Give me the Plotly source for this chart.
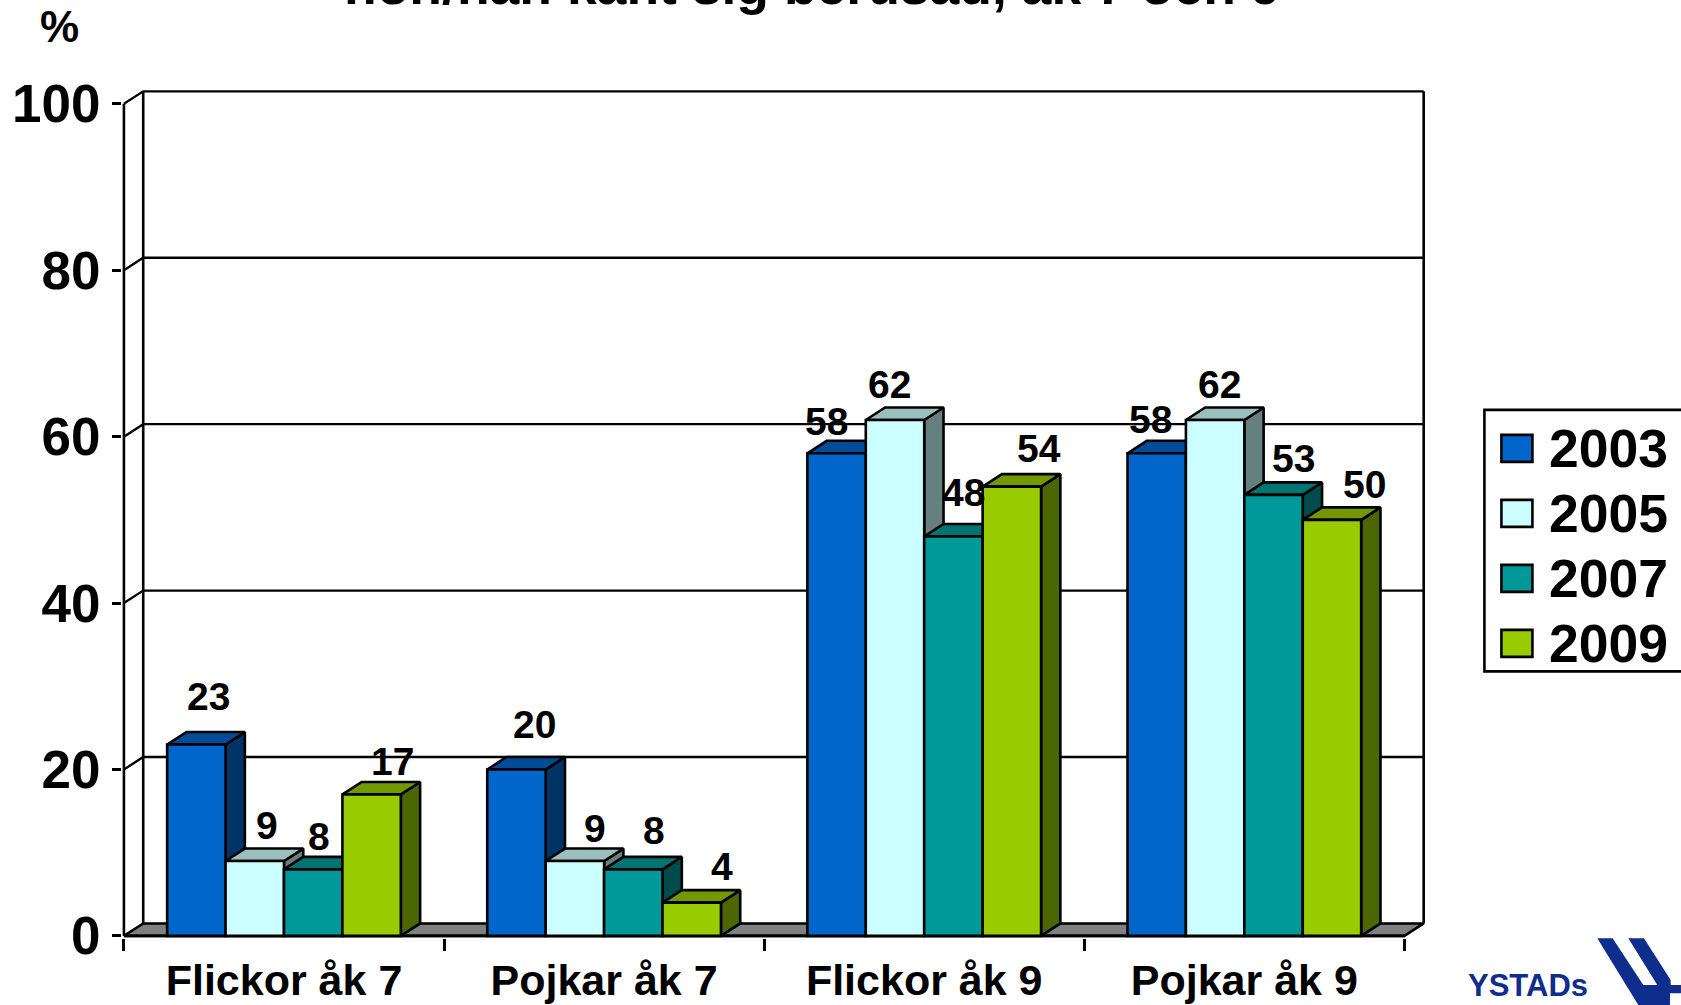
import plotly.graph_objects as go

# ---- data ----
categories = ["Flickor åk 7", "Pojkar åk 7", "Flickor åk 9", "Pojkar åk 9"]
years = ["2003", "2005", "2007", "2009"]
v2003 = [23, 20, 58, 58]
v2005 = [9, 9, 62, 62]
v2007 = [8, 8, 48, 53]
v2009 = [17, 4, 54, 50]
y_ticks = [0, 20, 40, 60, 80, 100]
title_text = "hon/han känt sig berusad, åk 7 och 9"

series = [v2003, v2005, v2007, v2009]
colors = ["#0066CC", "#CCFFFF", "#009999", "#99CC00"]
# label displacement from the bar's top centre, in pixels (x, y up)
label_dx = [[12, 18, -10, -6], [12, 20, -6, 4], [6, 21, 10, 20], [21, 30, 27, 33]]
label_dy = [[48, 45, 32, 34], [36, 33, 36, 36], [33, 39, 44, 36], [33, 36, 38, 35]]

W, H = 1681, 1005
FX0, FX1, FY100, FY0 = 124.4, 1404.5, 104.0, 936.0   # front plane of the chart, in pixels
CAT_PX = (FX1 - FX0) / 4
VAL_PX = (FY0 - FY100) / 100
FONT = "Liberation Sans"
LW = 2.6
GROUP_GAP = 0.27
DX, DY = 0.0603, 1.5   # 3-D depth in axis units
BAR_W = (1 - GROUP_GAP) / 4
XMIN, XMAX = -0.5, 3.5
XR = [-0.506, 3.58]
YR = [-0.25, 101.9]
L = FX0 + (XR[0] - XMIN) * CAT_PX
R = FX1 + (XR[1] - XMAX) * CAT_PX
B = FY0 - YR[0] * VAL_PX
T = FY100 - (YR[1] - 100) * VAL_PX


def shade(hex_color, k):
    c = [int(hex_color[i:i + 2], 16) for i in (1, 3, 5)]
    return "#" + "".join(f"{round(v * k):02X}" for v in c)


def px(x):
    return (x - L) / (R - L)


def py(y):
    return (B - y) / (B - T)


fig = go.Figure()


def poly(xs, ys, fill, name):
    fig.add_trace(go.Scatter(x=xs, y=ys, mode="lines", fill="toself", fillcolor=fill,
                             line=dict(color="black", width=LW), showlegend=False,
                             hoverinfo="skip", name=name))


def seg(xs, ys, width=LW):
    fig.add_trace(go.Scatter(x=xs, y=ys, mode="lines", line=dict(color="black", width=width),
                             showlegend=False, hoverinfo="skip"))


# floor
poly([XMIN, XMIN + DX, XMAX + DX, XMAX, XMIN], [0, DY, DY, 0, 0], "#808080", "floor")
# wall grid lines
for t in y_ticks[1:]:
    seg([XMIN, XMIN + DX, XMAX + DX], [t, t + DY, t + DY], LW * 0.9)
# wall verticals and front axis lines
for xv in (XMIN + DX, XMAX + DX):
    seg([xv, xv], [DY, y_ticks[-1] + DY])
seg([XMIN, XMIN], [0, y_ticks[-1]])
seg([XMIN, XMAX], [0, 0])

# 3-D faces of the bars, series by series
for i, (vals, col) in enumerate(zip(series, colors)):
    for c, v in enumerate(vals):
        left = c - 2 * BAR_W + i * BAR_W
        right = left + BAR_W
        poly([right, right + DX, right + DX, right, right],
             [0, DY, v + DY, v, 0], shade(col, 0.5), f"{years[i]} side")
        poly([left, left + DX, right + DX, right, left],
             [v, v + DY, v + DY, v, v], shade(col, 0.75), f"{years[i]} top")

# front faces of the bars on an overlay subplot
for i, (vals, col) in enumerate(zip(series, colors)):
    fig.add_trace(go.Bar(x=list(range(4)), y=vals, name=years[i], xaxis="x2", yaxis="y2",
                         marker=dict(color=col, line=dict(color="black", width=LW)),
                         cliponaxis=False, showlegend=False))

ann = []
for i, vals in enumerate(series):
    for c, v in enumerate(vals):
        center = c - 2 * BAR_W + (i + 0.5) * BAR_W
        ann.append(dict(x=center, y=v, xref="x", yref="y", text=f"<b>{v}</b>", showarrow=False,
                        xanchor="center", yanchor="middle",
                        xshift=label_dx[i][c], yshift=label_dy[i][c],
                        font=dict(size=39, color="black", family=FONT)))

ann.append(dict(x=px(60), y=py(27), xref="paper", yref="paper", text="<b>%</b>", showarrow=False,
                xanchor="center", yanchor="middle", font=dict(size=44, color="black", family=FONT)))
ann.append(dict(x=px(813), y=py(17), xref="paper", yref="paper", text=f"<b>{title_text}</b>",
                showarrow=False, xanchor="center", yanchor="bottom",
                font=dict(size=53.5, color="black", family=FONT)))

shapes = [dict(type="rect", xref="paper", yref="paper", x0=px(1484.5), x1=px(1720), y0=py(410), y1=py(671.5),
               line=dict(color="black", width=LW), fillcolor="white", layer="above")]
row_top = [435, 500, 565, 630]
for yr, col, ty in zip(years, colors, row_top):
    shapes.append(dict(type="rect", xref="paper", yref="paper", x0=px(1501.5), x1=px(1532.5),
                       y0=py(ty), y1=py(ty + 27), fillcolor=col,
                       line=dict(color="black", width=LW), layer="above"))
    ann.append(dict(x=px(1547), y=py(ty + 14), xref="paper", yref="paper", text=f"<b>{yr}</b>",
                    showarrow=False, xanchor="left", yanchor="middle",
                    font=dict(size=53.5, color="black", family=FONT)))

# Ystad logo
LOGO = "#0F2D8C"
lx = lambda v: px(1580 + v / 3)
ly = lambda v: py(925 + v / 3)
pts = [(52, 40), (98, 40), (190, 180), (232, 180), (145, 40), (192, 40), (272, 165), (272, 180),
       (303, 180), (303, 205), (270, 205), (270, 240), (175, 240)]
path = "M" + " L".join(f"{lx(a):.5f},{ly(b):.5f}" for a, b in pts) + " Z"
shapes.append(dict(type="path", xref="paper", yref="paper", path=path, fillcolor=LOGO,
                   line=dict(width=0), layer="above"))
ann.append(dict(x=px(1528), y=py(986), xref="paper", yref="paper", text="<b>YSTADs</b>", showarrow=False,
                xanchor="center", yanchor="middle",
                font=dict(size=31, color=LOGO, family=FONT)))

fig.update_layout(
    width=W, height=H, autosize=False,
    margin=dict(l=L, r=W - R, t=T, b=H - B, pad=0, autoexpand=False),
    paper_bgcolor="white", plot_bgcolor="rgba(0,0,0,0)",
    barmode="group", bargap=GROUP_GAP, bargroupgap=0,
    showlegend=False, annotations=ann, shapes=shapes,
    font=dict(family=FONT, color="black"),
    xaxis=dict(type="linear", range=XR, tickmode="array", tickvals=list(range(4)), automargin=False,
               ticktext=[f"<b>{c}</b>" for c in categories], ticks="", showgrid=False, zeroline=False,
               showline=False,
               ticklabelstandoff=13, tickfont=dict(size=43, color="black", family=FONT),
               minor=dict(tickmode="array", tickvals=[-0.5, 0.5, 1.5, 2.5, 3.5], ticks="outside",
                          ticklen=12, tickwidth=LW, tickcolor="black", showgrid=False)),
    yaxis=dict(range=YR, tickmode="array", tickvals=y_ticks, automargin=False,
               ticktext=[f"<b>{t}</b>" for t in y_ticks], ticks="outside", ticklen=9, tickwidth=LW,
               tickcolor="black", showgrid=False, zeroline=False, showline=False,
               ticklabelstandoff=1, tickfont=dict(size=53, color="black", family=FONT)),
    xaxis2=dict(range=XR, overlaying="x", visible=False),
    yaxis2=dict(range=YR, overlaying="y", visible=False),
)

fig.write_html("out.html", config=dict(displayModeBar=False),
               post_script="document.body.style.margin='0';document.body.style.overflow='hidden';")
